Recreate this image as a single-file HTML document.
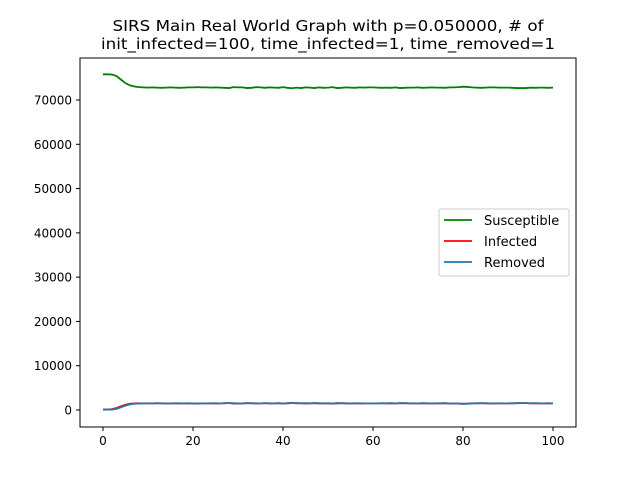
<!DOCTYPE html>
<html><head><meta charset="utf-8"><style>
body{margin:0;background:#fff}
svg{display:block;font-family:"DejaVu Sans","Liberation Sans",sans-serif}
</style></head><body>
<svg id="chart" width="640" height="480">
<rect width="640" height="480" fill="#fff"/>
<text x="328" y="31" text-anchor="middle" font-size="15" textLength="431" lengthAdjust="spacingAndGlyphs">SIRS Main Real World Graph with p=0.050000, # of</text>
<text x="328" y="49" text-anchor="middle" font-size="15" textLength="454" lengthAdjust="spacingAndGlyphs">init_infected=100, time_infected=1, time_removed=1</text>
<g id="plot"></g>
<rect x="80" y="58" width="496" height="369" fill="none" stroke="#000" stroke-width="1"/>
<g>
<rect x="439" y="209" width="130" height="67" fill="#fff" stroke="#ccc" rx="2"/>
<line x1="444" y1="220" x2="472" y2="220" stroke="green" stroke-width="1.8"/>
<text x="484" y="225" font-size="13">Susceptible</text>
<line x1="444" y1="241" x2="472" y2="241" stroke="red" stroke-width="1.8"/>
<text x="484" y="246" font-size="13">Infected</text>
<line x1="444" y1="262" x2="472" y2="262" stroke="#1f77b4" stroke-width="1.8"/>
<text x="484" y="267" font-size="13">Removed</text>
</g>
</svg>
<script>
const xTicks=[0,20,40,60,80,100];
const yTicks=[0,10000,20000,30000,40000,50000,60000,70000];
const susceptible=[75800,75800,75750,75400,74600,73800,73300,73050,72900,72850,72800,72850,72800,72750,72800,72850,72800,72750,72800,72850,72850,72900,72850,72850,72800,72850,72800,72750,72700,72900,72850,72850,72700,72750,72900,72850,72750,72850,72800,72750,72900,72750,72650,72800,72700,72850,72800,72700,72850,72750,72800,72900,72700,72750,72850,72800,72750,72850,72800,72850,72850,72800,72750,72800,72750,72850,72700,72750,72800,72800,72850,72750,72800,72850,72800,72800,72750,72850,72850,72900,73000,72950,72850,72800,72750,72800,72850,72850,72800,72800,72800,72750,72700,72700,72700,72800,72750,72800,72800,72750,72800];
const infected=[100,100,200,450,850,1200,1400,1480,1520,1500,1520,1480,1550,1500,1470,1500,1520,1480,1500,1520,1480,1450,1500,1500,1520,1480,1500,1550,1580,1450,1500,1480,1580,1520,1470,1500,1550,1480,1500,1550,1460,1560,1600,1500,1560,1480,1520,1570,1480,1520,1500,1450,1570,1530,1480,1500,1530,1480,1500,1490,1490,1500,1530,1500,1540,1480,1560,1540,1500,1510,1480,1540,1500,1480,1510,1500,1540,1480,1470,1450,1400,1440,1500,1520,1540,1510,1480,1490,1510,1500,1500,1530,1550,1550,1560,1500,1530,1500,1500,1530,1500];
const removed=[100,100,100,250,600,1000,1280,1420,1480,1500,1500,1500,1500,1530,1500,1470,1500,1520,1480,1500,1480,1470,1480,1500,1500,1510,1490,1500,1560,1560,1450,1500,1500,1560,1510,1470,1520,1530,1480,1520,1500,1480,1580,1570,1500,1540,1490,1520,1550,1480,1520,1480,1480,1560,1520,1480,1500,1520,1490,1500,1480,1500,1520,1510,1520,1500,1530,1550,1510,1500,1500,1520,1510,1480,1500,1510,1520,1500,1470,1450,1400,1410,1480,1510,1530,1520,1490,1480,1500,1500,1500,1510,1540,1550,1550,1530,1520,1510,1500,1510,1500];
const xs=v=>103+v*4.5;
const ys=v=>410-v*310/70000;
const NS="http://www.w3.org/2000/svg";
const plot=document.getElementById('plot');
function mk(tag,attrs){const e=document.createElementNS(NS,tag);for(const k in attrs)e.setAttribute(k,attrs[k]);return e;}
xTicks.forEach(t=>{
  const l=mk('line',{x1:xs(t),x2:xs(t),y1:427,y2:431,stroke:'#000'});
  
  
  plot.appendChild(l);
  const tx=mk('text',{x:xs(t),y:445,'text-anchor':'middle','font-size':'12'});
  tx.textContent=t;
  
  
  plot.appendChild(tx);
});
yTicks.forEach(t=>{
  const l=mk('line',{x1:76,x2:80,y1:ys(t),y2:ys(t),stroke:'#000'});
  
  
  plot.appendChild(l);
  const tx=mk('text',{x:72,y:ys(t)+4.5,'text-anchor':'end','font-size':'12'});
  tx.textContent=t;
  
  
  plot.appendChild(tx);
});
function line(arr,color,name){
  const p=mk('polyline',{points:arr.map((v,i)=>xs(i)+','+ys(v)).join(' '),fill:'none',stroke:color,'stroke-width':'1.8'});
  
  
  plot.appendChild(p);
}
line(susceptible,'green','susceptible-line');
line(infected,'red','infected-line');
line(removed,'#1f77b4','removed-line');
</script>
</body></html>
